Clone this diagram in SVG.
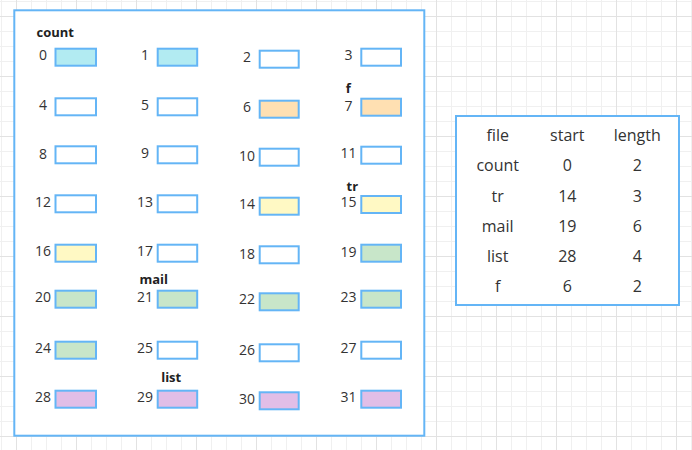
<svg xmlns="http://www.w3.org/2000/svg" width="692" height="450" viewBox="0 0 692 450">
<style>
.frame{fill:#fff;stroke:#64b5f6;stroke-width:2}
.cell{stroke:#64b5f6;stroke-width:2;fill:#fff}
.c{fill:#b2ebf2}.o{fill:#ffe0b2}.y{fill:#fff9c4}.g{fill:#c8e6c9}.p{fill:#e1bee7}
.n{font-family:"Open Sans","Noto Sans",sans-serif;font-size:14px;fill:#333;text-anchor:middle}
.b{font-family:"Open Sans","Noto Sans",sans-serif;font-size:13px;font-weight:bold;fill:#222}
.t{font-family:"Open Sans","Noto Sans",sans-serif;font-size:16px;fill:#333;text-anchor:middle}
</style>
<defs>
<pattern id="gs" width="15" height="15" patternUnits="userSpaceOnUse"><path d="M1.5 0V15M0 1.5H15" stroke="#f0f0f0" stroke-width="1" fill="none"/></pattern>
<pattern id="gl" width="60" height="60" patternUnits="userSpaceOnUse"><path d="M16.5 0V60M0 16.5H60" stroke="#e2e2e2" stroke-width="1" fill="none"/></pattern>
</defs>
<rect width="692" height="450" fill="#fff"/>
<rect width="692" height="450" fill="url(#gs)"/>
<rect width="692" height="450" fill="url(#gl)"/>
<g id="memory">
<rect class="frame" x="14.3" y="10.3" width="410" height="425.4"/>
</g>
<g id="cell-0"><rect class="cell c" x="55.5" y="48.7" width="40.5" height="17"/><text class="n" x="43" y="59.7">0</text></g>
<g id="cell-1"><rect class="cell c" x="157.7" y="48.7" width="39.5" height="17"/><text class="n" x="145" y="59.7">1</text></g>
<g id="cell-2"><rect class="cell" x="259.7" y="50.7" width="39" height="17"/><text class="n" x="247" y="61.7">2</text></g>
<g id="cell-3"><rect class="cell" x="361.3" y="48.7" width="39.7" height="17"/><text class="n" x="348.5" y="60">3</text></g>
<g id="cell-4"><rect class="cell" x="55.5" y="98.3" width="40.5" height="17"/><text class="n" x="43" y="110">4</text></g>
<g id="cell-5"><rect class="cell" x="157.7" y="98.3" width="39.5" height="17"/><text class="n" x="145" y="110.3">5</text></g>
<g id="cell-6"><rect class="cell o" x="259.7" y="100.7" width="39" height="17"/><text class="n" x="247" y="112.3">6</text></g>
<g id="cell-7"><rect class="cell o" x="361.3" y="98.7" width="39.7" height="17"/><text class="n" x="348.5" y="110.8">7</text></g>
<g id="cell-8"><rect class="cell" x="55.5" y="146.3" width="40.5" height="17"/><text class="n" x="43" y="158.5">8</text></g>
<g id="cell-9"><rect class="cell" x="157.7" y="146.3" width="39.5" height="17"/><text class="n" x="145" y="158.3">9</text></g>
<g id="cell-10"><rect class="cell" x="259.7" y="148.7" width="39" height="17"/><text class="n" x="247" y="160.5">10</text></g>
<g id="cell-11"><rect class="cell" x="361.3" y="146.7" width="39.7" height="17"/><text class="n" x="348.5" y="158.2">11</text></g>
<g id="cell-12"><rect class="cell" x="55.5" y="195.3" width="40.5" height="17"/><text class="n" x="43" y="206.7">12</text></g>
<g id="cell-13"><rect class="cell" x="157.7" y="195.3" width="39.5" height="17"/><text class="n" x="145" y="207">13</text></g>
<g id="cell-14"><rect class="cell y" x="259.7" y="197.7" width="39" height="17"/><text class="n" x="247" y="209">14</text></g>
<g id="cell-15"><rect class="cell y" x="361.3" y="196" width="39.7" height="17"/><text class="n" x="348.5" y="206.5">15</text></g>
<g id="cell-16"><rect class="cell y" x="55.5" y="244.7" width="40.5" height="17"/><text class="n" x="43" y="255.7">16</text></g>
<g id="cell-17"><rect class="cell" x="157.7" y="244.7" width="39.5" height="17"/><text class="n" x="145" y="255.7">17</text></g>
<g id="cell-18"><rect class="cell" x="259.7" y="246.3" width="39" height="17"/><text class="n" x="247" y="258.7">18</text></g>
<g id="cell-19"><rect class="cell g" x="361.3" y="244.7" width="39.7" height="17"/><text class="n" x="348.5" y="256.7">19</text></g>
<g id="cell-20"><rect class="cell g" x="55.5" y="290.7" width="40.5" height="17"/><text class="n" x="43" y="302.3">20</text></g>
<g id="cell-21"><rect class="cell g" x="157.7" y="290.7" width="39.5" height="17"/><text class="n" x="145" y="302.3">21</text></g>
<g id="cell-22"><rect class="cell g" x="259.7" y="293.3" width="39" height="17"/><text class="n" x="247" y="304.3">22</text></g>
<g id="cell-23"><rect class="cell g" x="361.3" y="290.7" width="39.7" height="17"/><text class="n" x="348.5" y="302.3">23</text></g>
<g id="cell-24"><rect class="cell g" x="55.5" y="341.7" width="40.5" height="17"/><text class="n" x="43" y="353.3">24</text></g>
<g id="cell-25"><rect class="cell" x="157.7" y="341.7" width="39.5" height="17"/><text class="n" x="145" y="353.3">25</text></g>
<g id="cell-26"><rect class="cell" x="259.7" y="344.3" width="39" height="17"/><text class="n" x="247" y="355.3">26</text></g>
<g id="cell-27"><rect class="cell" x="361.3" y="341.7" width="39.7" height="17"/><text class="n" x="348.5" y="353.3">27</text></g>
<g id="cell-28"><rect class="cell p" x="55.5" y="390.7" width="40.5" height="17"/><text class="n" x="43" y="402.3">28</text></g>
<g id="cell-29"><rect class="cell p" x="157.7" y="390.7" width="39.5" height="17"/><text class="n" x="145" y="402.3">29</text></g>
<g id="cell-30"><rect class="cell p" x="259.7" y="392.3" width="39" height="17"/><text class="n" x="247" y="404">30</text></g>
<g id="cell-31"><rect class="cell p" x="361.3" y="390.7" width="39.7" height="17"/><text class="n" x="348.5" y="402.3">31</text></g>
<g id="label-count"><text class="b" x="36.5" y="36.5">count</text></g>
<g id="label-f"><text class="b" x="348.3" y="92.5" text-anchor="middle">f</text></g>
<g id="label-tr"><text class="b" x="352.3" y="190.7" text-anchor="middle">tr</text></g>
<g id="label-mail"><text class="b" x="153.7" y="284" text-anchor="middle">mail</text></g>
<g id="label-list"><text class="b" x="171.2" y="381.7" text-anchor="middle">list</text></g>
<g id="table">
<rect class="frame" x="456" y="116" width="223" height="189"/>
<text class="t" x="497.7" y="141">file</text><text class="t" x="567.3" y="141">start</text><text class="t" x="637.3" y="141">length</text>
<text class="t" x="497.7" y="171">count</text><text class="t" x="567.3" y="171">0</text><text class="t" x="637.3" y="171">2</text>
<text class="t" x="497.7" y="202">tr</text><text class="t" x="567.3" y="202">14</text><text class="t" x="637.3" y="202">3</text>
<text class="t" x="497.7" y="232">mail</text><text class="t" x="567.3" y="232">19</text><text class="t" x="637.3" y="232">6</text>
<text class="t" x="497.7" y="262">list</text><text class="t" x="567.3" y="262">28</text><text class="t" x="637.3" y="262">4</text>
<text class="t" x="497.7" y="292">f</text><text class="t" x="567.3" y="292">6</text><text class="t" x="637.3" y="292">2</text>
</g>
<g id="connectors"/>
</svg>
